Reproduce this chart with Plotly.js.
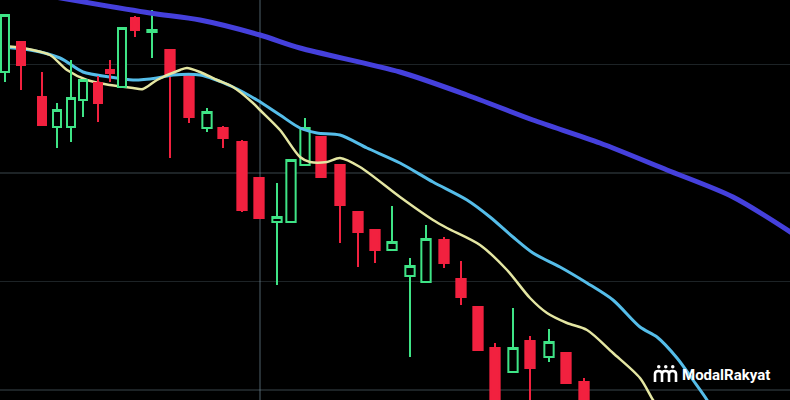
<!DOCTYPE html>
<html>
<head>
<meta charset="utf-8">
<script src="https://cdn.plot.ly/plotly-3.0.1.min.js"></script>
<style>
html,body{margin:0;padding:0;background:#000;}
#chart{width:790px;height:400px;}
</style>
</head>
<body>
<div id="chart"></div>
<script>
// Candles, far (left) part of the screen
var farX     = [5,21,42,57,71,83,98,110,122,135];
var farOpen  = [328,358,303,273,273,300,317,330,313,382];
var farHigh  = [385,358,328,297,340,320,324,340,372,384];
var farLow   = [318,310,275,252,258,283,278,318,312,363];
var farClose = [385,335,275,290,302,320,297,327,372,370];

// Candles, near (right) part of the screen
var nearX     = [152,170,189,207,223,242,259,277,291,305,321,340,358,375,392,410,426,444,461,478,495,513,530,549,566,584];
var nearOpen  = [368,350,325,272,272,258,222,178,178,235,263,235,188,170,150,124,118,160,121,93,52,28,59,43,47,18];
var nearHigh  = [390,350,325,292,274,260,222,217,240,282,263,235,188,170,194,142,175,163,139,93,57,92,64,71,47,22];
var nearLow   = [342,242,277,268,252,188,182,115,178,235,223,157,133,137,150,43,117,132,95,50,-10,28,-5,38,17,-5];
var nearClose = [370,325,283,288,262,190,182,183,240,272,223,195,168,150,158,134,161,137,103,50,-5,52,32,58,17,-5];

// Moving averages
var fastX = [0,15,33,50,67,87,110,133,143,157,180,187,200,217,233,253,260,280,300,310,327,340,360,400,433,447,480,507,530,547,567,587,613,640,653,660];
var fastY = [354,353,350,345,330,320,315,312,311,320,330,332,328,320,313,297,290,270,243,238,238,242,233,203,180,172,155,130,102,87,77,70,47,22,0,-10];
var midX  = [0,30,60,83,110,133,157,173,200,233,257,280,300,317,340,367,400,433,467,490,513,533,560,587,613,640,657,677,693,707,712];
var midY  = [353,350,342,328,323,320,322,325,325,313,300,285,272,267,265,252,237,218,200,183,163,147,133,117,100,73,63,42,20,0,-10];
var slowX = [55,150,200,260,300,400,467,533,600,667,733,795];
var slowY = [403,387,380,365,352,328,305,280,257,230,203,165];

// Grid levels
var priceGrid = [10,118.5,227,335.5];
var timeGrid = [260];

var UP = {line:{color:'#3fe486', width:2}, fillcolor:'#000000'};
var DOWN = {line:{color:'#f2213f', width:2}, fillcolor:'#f2213f'};

var traces = [
  {type:'scatter', mode:'lines', x:slowX, y:slowY, line:{color:'#4540dc', width:5, shape:'spline', smoothing:0.8}, hoverinfo:'skip'},
  {type:'scatter', mode:'lines', x:midX, y:midY, line:{color:'#55bde9', width:3, shape:'spline', smoothing:0.8}, hoverinfo:'skip'},
  {type:'scatter', mode:'lines', x:fastX, y:fastY, line:{color:'#e4e6a2', width:2.5, shape:'spline', smoothing:0.8}, hoverinfo:'skip'},
  {type:'candlestick', xaxis:'x2', x:farX, open:farOpen, high:farHigh, low:farLow, close:farClose,
   increasing:UP, decreasing:DOWN, whiskerwidth:0, hoverinfo:'skip'},
  {type:'candlestick', x:nearX, open:nearOpen, high:nearHigh, low:nearLow, close:nearClose,
   increasing:UP, decreasing:DOWN, whiskerwidth:0, hoverinfo:'skip'}
];

var W = '#ffffff';
var layout = {
  width:790, height:400,
  margin:{l:0,r:0,t:0,b:0},
  paper_bgcolor:'#000', plot_bgcolor:'#000',
  showlegend:false,
  boxgap:0.05,
  xaxis:{range:[0,790], rangeslider:{visible:false}, showticklabels:false, zeroline:false, showline:false,
         tickvals:timeGrid, showgrid:true, gridcolor:'rgba(130,160,175,0.3)', gridwidth:1.5, fixedrange:true},
  xaxis2:{range:[0,790], overlaying:'x', visible:false, rangeslider:{visible:false}, fixedrange:true},
  yaxis:{range:[0,400], showticklabels:false, zeroline:false, showline:false,
         tickvals:priceGrid, showgrid:true, gridcolor:'rgba(130,160,175,0.22)', gridwidth:1.5, fixedrange:true},
  annotations:[
    {xref:'paper', yref:'paper', x:680/790, y:(400-375)/400, xanchor:'left', yanchor:'middle', showarrow:false,
     text:'ModalRakyat', font:{family:'Roboto, Open Sans, sans-serif', size:15, color:'#ffffff', weight:700}}
  ],
  shapes:[
    {type:'path', xref:'x', yref:'y', path:'M655,18 V26 Q655,29 658.5,29 Q662,29 662,26 V18 M662,26 Q662,29 665.5,29 Q669,29 669,26 V18 M669,26 Q669,29 672.5,29 Q676,29 676,26 V18', line:{color:W, width:2.6}},
    {type:'circle', xref:'x', yref:'y', x0:657, x1:660.5, y0:31.5, y1:35, fillcolor:W, line:{width:0}},
    {type:'circle', xref:'x', yref:'y', x0:664, x1:667.5, y0:31.5, y1:35, fillcolor:W, line:{width:0}},
    {type:'circle', xref:'x', yref:'y', x0:671, x1:674.5, y0:31.5, y1:35, fillcolor:W, line:{width:0}}
  ]
};

Plotly.newPlot('chart', traces, layout, {staticPlot:true, displayModeBar:false});
</script>
</body>
</html>
